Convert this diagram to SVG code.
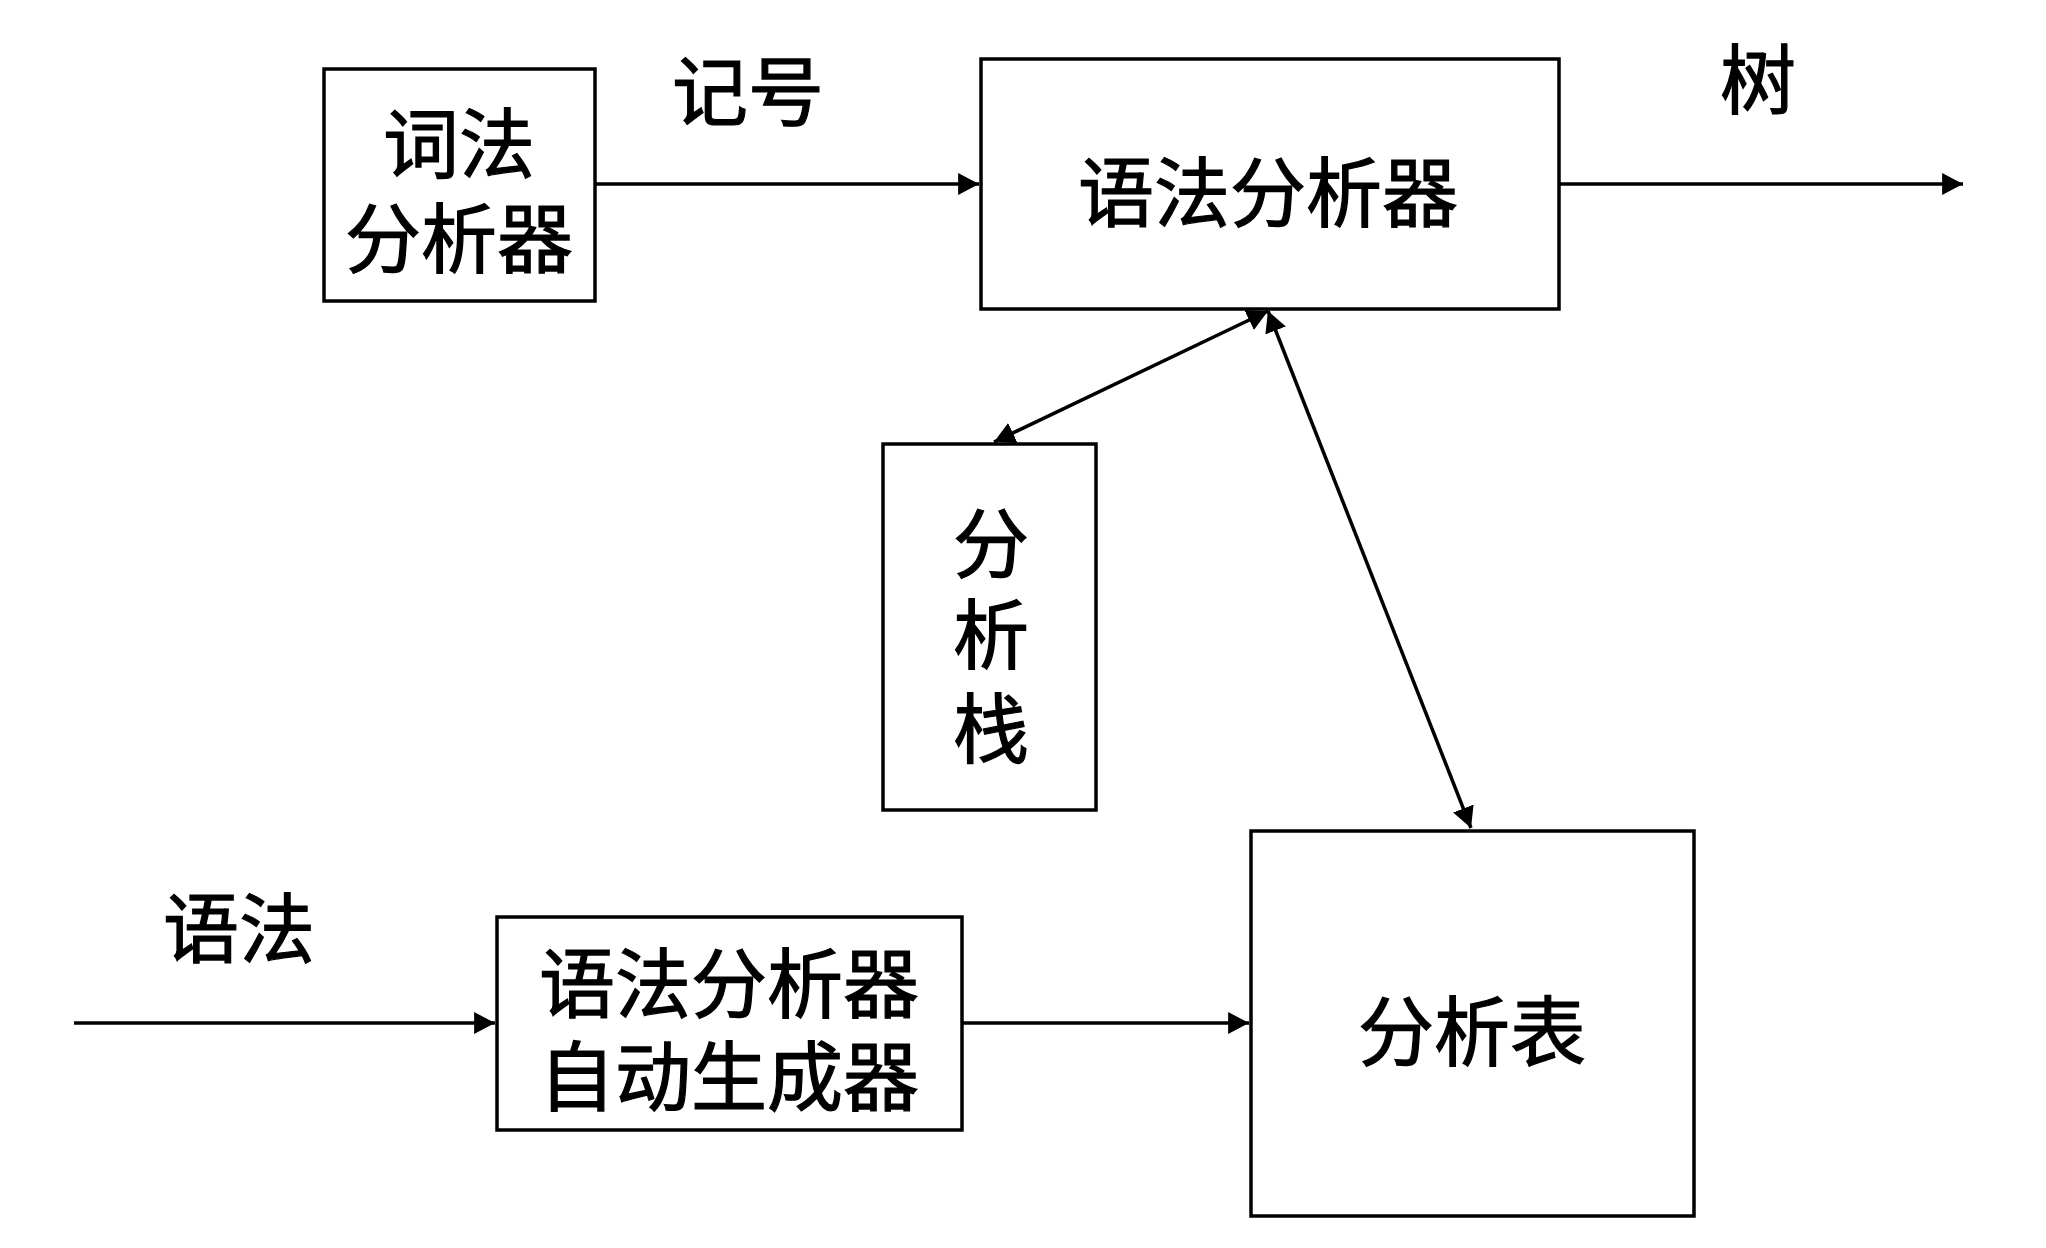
<svg xmlns="http://www.w3.org/2000/svg" width="2046" height="1248" viewBox="0 0 2046 1248">
<style>
.box{fill:#fff;stroke:#000;stroke-width:3.5}
.t{font-family:"Noto Sans CJK SC","Noto Sans",sans-serif;font-size:76px;fill:#000;stroke:#000;stroke-width:1.2;text-anchor:middle}
.c{stroke:#000;stroke-width:3.5;fill:none}
</style>
<defs>
<marker id="ah" markerUnits="userSpaceOnUse" markerWidth="22" markerHeight="22" refX="19" refY="10" viewBox="0 0 20 20" orient="auto-start-reverse">
<path d="M0,0 L19,10 L0,20 Z" fill="#000"/>
</marker>
</defs>
<rect width="2046" height="1248" fill="#fff"/>
<g id="connectors">
<line class="c" x1="596" y1="184" x2="979" y2="184" marker-end="url(#ah)"/>
<line class="c" x1="1559" y1="184" x2="1963" y2="184" marker-end="url(#ah)"/>
<line class="c" x1="994" y1="442" x2="1268" y2="311" marker-start="url(#ah)" marker-end="url(#ah)"/>
<line class="c" x1="1268" y1="311" x2="1471" y2="828" marker-start="url(#ah)" marker-end="url(#ah)"/>
<line class="c" x1="74" y1="1023" x2="495" y2="1023" marker-end="url(#ah)"/>
<line class="c" x1="962" y1="1023" x2="1249" y2="1023" marker-end="url(#ah)"/>
</g>
<g id="lexer">
<rect class="box" x="324" y="69" width="271" height="232"/>
<text class="t"><tspan x="459" y="172">词法</tspan><tspan x="459" y="267">分析器</tspan></text>
</g>
<g id="label-token"><text class="t" x="748" y="120">记号</text></g>
<g id="parser">
<rect class="box" x="981" y="59" width="578" height="250"/>
<text class="t" x="1268" y="221">语法分析器</text>
</g>
<g id="label-tree"><text class="t" x="1758" y="108">树</text></g>
<g id="stack">
<rect class="box" x="883" y="444" width="213" height="366"/>
<text class="t"><tspan x="991" y="572">分</tspan><tspan x="991" y="663">析</tspan><tspan x="991" y="757">栈</tspan></text>
</g>
<g id="table">
<rect class="box" x="1251" y="831" width="443" height="385"/>
<text class="t" x="1472" y="1060">分析表</text>
</g>
<g id="label-grammar"><text class="t" x="239" y="957">语法</text></g>
<g id="generator">
<rect class="box" x="497" y="917" width="465" height="213"/>
<text class="t"><tspan x="729" y="1012">语法分析器</tspan><tspan x="729" y="1105">自动生成器</tspan></text>
</g>
</svg>
